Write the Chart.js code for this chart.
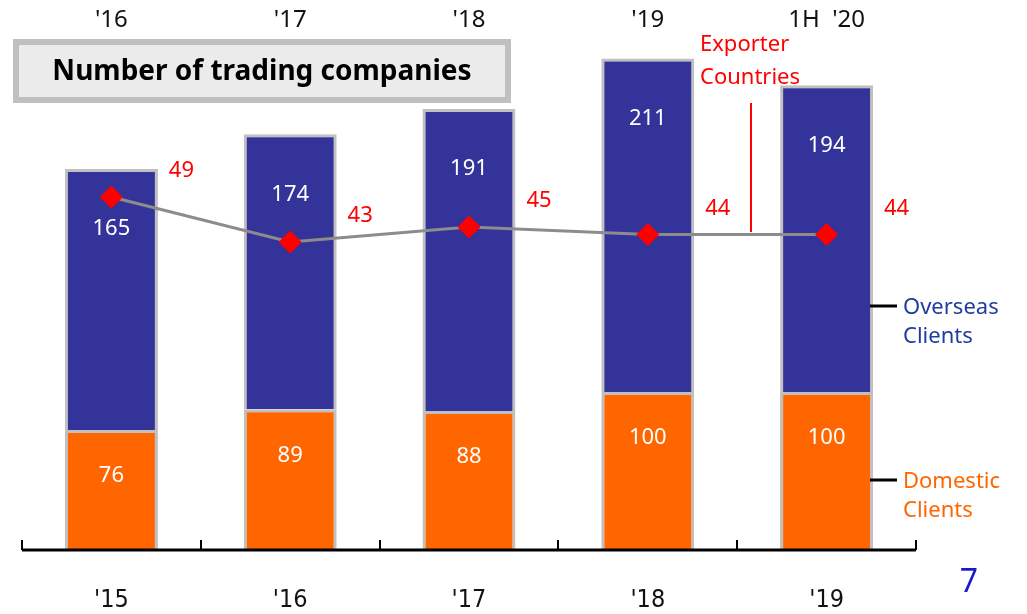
<!DOCTYPE html>
<html>
<head>
<meta charset="utf-8">
<script src="https://cdn.jsdelivr.net/npm/chart.js@4.4.1/dist/chart.umd.min.js"></script>
<style>
    html, body { margin: 0; padding: 0; background: #fff; }
    #wrap { width: 1027px; height: 614px; }
</style>
</head>
<body>
<div id="wrap"><canvas id="chart" width="1027" height="614"></canvas></div>
<script>
// ---- data ----
const bottomLabels = ["'15", "'16", "'17", "'18", "'19"];
const topLabels = ["'16", "'17", "'18", "'19", "1H  '20"];
const domestic = [76, 89, 88, 100, 100];
const overseas = [165, 174, 191, 211, 194];
const exporters = [49, 43, 45, 44, 44];

const FONT = "'Noto Sans', 'Open Sans', sans-serif";

// labels, lines and the title box drawn on top of the chart
const overlay = {
    id: 'overlay',
    afterDatasetsDraw(chart) {
        const ctx = chart.ctx;
        const area = chart.chartArea;
        const x = chart.scales.x;
        const dom = chart.getDatasetMeta(0).data;
        const ovs = chart.getDatasetMeta(1).data;
        const pts = chart.getDatasetMeta(2).data;
        const half = (x.getPixelForValue(1) - x.getPixelForValue(0)) / 2;

        ctx.save();

        // axis line + ticks
        ctx.strokeStyle = '#000';
        ctx.lineWidth = 3;
        ctx.beginPath();
        ctx.moveTo(area.left, area.bottom);
        ctx.lineTo(area.right, area.bottom);
        ctx.stroke();
        ctx.lineWidth = 2;
        for (let i = 0; i <= bottomLabels.length; i++) {
            const px = Math.round(x.getPixelForValue(i) - half);
            ctx.beginPath();
            ctx.moveTo(px, area.bottom);
            ctx.lineTo(px, area.bottom - 10);
            ctx.stroke();
        }

        ctx.textAlign = 'center';
        ctx.textBaseline = 'middle';

        // category labels
        ctx.fillStyle = '#111';
        ctx.font = `25px 'Liberation Sans Narrow', 'DejaVu Sans Condensed', sans-serif`;
        bottomLabels.forEach((t, i) => ctx.fillText(t, x.getPixelForValue(i), 600));
        ctx.font = `24px ${FONT}`;
        topLabels.forEach((t, i) => ctx.fillText(t, x.getPixelForValue(i), 20));

        // bar values
        ctx.fillStyle = '#fff';
        ctx.font = `22px ${FONT}`;
        dom.forEach((bar, i) => ctx.fillText(domestic[i], bar.x, bar.y + 46));
        ovs.forEach((bar, i) => ctx.fillText(overseas[i], bar.x, bar.y + 60));

        // exporter values
        ctx.fillStyle = '#ff0000';
        pts.forEach((p, i) => ctx.fillText(exporters[i], p.x + 70, p.y - 26));

        // exporter note
        ctx.textAlign = 'left';
        ctx.fillText('Exporter', 700, 45);
        ctx.fillText('Countries', 700, 78);
        ctx.strokeStyle = '#ff0000';
        ctx.lineWidth = 2;
        ctx.beginPath();
        ctx.moveTo(751, 103);
        ctx.lineTo(751, 232);
        ctx.stroke();

        // series notes
        ctx.strokeStyle = '#000';
        ctx.lineWidth = 3;
        [[306, 'Overseas', '#1f3d9e'], [480, 'Domestic', '#ff6600']].forEach(([y, name, col]) => {
            ctx.beginPath();
            ctx.moveTo(870, y);
            ctx.lineTo(897, y);
            ctx.stroke();
            ctx.fillStyle = col;
            ctx.fillText(name, 903, y + 2);
            ctx.fillText('Clients', 903, y + 31);
        });

        // title box
        ctx.fillStyle = '#ebebeb';
        ctx.fillRect(16, 42, 492, 58);
        ctx.strokeStyle = '#c0c0c0';
        ctx.lineWidth = 6;
        ctx.strokeRect(16, 42, 492, 58);
        ctx.fillStyle = '#000';
        ctx.textAlign = 'center';
        ctx.font = `bold 28px ${FONT}`;
        ctx.fillText('Number of trading companies', 262, 72);

        // page number
        ctx.fillStyle = '#1a1acc';
        ctx.font = `32px ${FONT}`;
        ctx.fillText('7', 969, 583);

        ctx.restore();
    }
};

new Chart(document.getElementById('chart'), {
    type: 'bar',
    data: {
        labels: bottomLabels,
        datasets: [
            {
                label: 'Domestic Clients',
                data: domestic,
                backgroundColor: '#ff6600',
                borderColor: '#c0c0c0',
                borderWidth: 3,
                barPercentage: 0.52,
                categoryPercentage: 1,
                order: 1
            },
            {
                label: 'Overseas Clients',
                data: overseas,
                backgroundColor: '#333399',
                borderColor: '#c0c0c0',
                borderWidth: 3,
                barPercentage: 0.52,
                categoryPercentage: 1,
                order: 1
            },
            {
                type: 'line',
                label: 'Exporter Countries',
                data: exporters,
                yAxisID: 'y2',
                borderColor: '#8c8c8c',
                borderWidth: 3,
                pointStyle: 'rectRot',
                pointRadius: 11,
                pointBackgroundColor: '#ff0000',
                pointBorderColor: '#ff0000',
                pointBorderWidth: 1,
                tension: 0,
                order: 0
            }
        ]
    },
    options: {
        responsive: false,
        animation: false,
        layout: { autoPadding: false, padding: { left: 22, right: 111, top: 0, bottom: 64 } },
        plugins: {
            legend: { display: false },
            tooltip: { enabled: false }
        },
        scales: {
            x: { display: false, stacked: true },
            y: { display: false, stacked: true, min: 0, max: 348 },
            y2: { display: false, stacked: false, min: 1.9, max: 75.3 }
        }
    },
    plugins: [overlay]
});
</script>
</body>
</html>
